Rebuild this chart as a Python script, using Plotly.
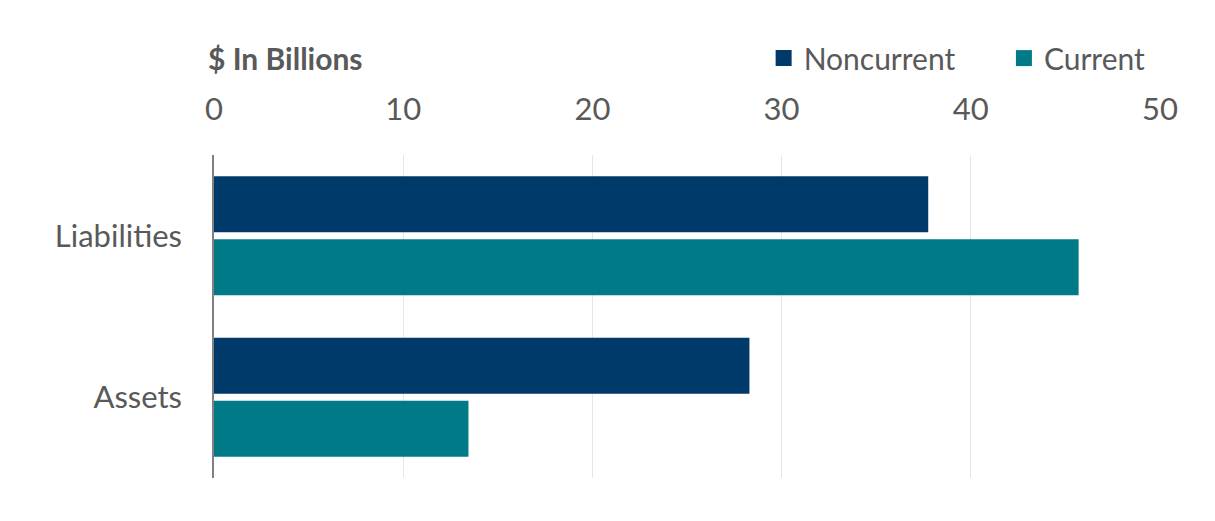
import plotly.graph_objects as go

categories = ["Assets", "Liabilities"]
noncurrent = [28.3, 37.75]
current = [13.45, 45.7]
x_ticks = [0, 10, 20, 30, 40, 50]

NAVY = "#003A6A"
TEAL = "#007A87"
GREY = "#595959"
FONT = "Lato, Carlito, 'Liberation Sans Narrow', sans-serif"

fig = go.Figure()
# Current is added first so Noncurrent sits on top within each horizontal group
fig.add_trace(go.Bar(
    y=categories, x=current, orientation="h", name="Current",
    marker=dict(color=TEAL, line=dict(width=0)), showlegend=False,
))
fig.add_trace(go.Bar(
    y=categories, x=noncurrent, orientation="h", name="Noncurrent",
    marker=dict(color=NAVY, line=dict(width=0)), showlegend=False,
))
# Legend entries with larger square swatches, each in its own legend box
for name, color, leg in [("Noncurrent", NAVY, "legend"), ("Current", TEAL, "legend2")]:
    fig.add_trace(go.Scatter(
        x=[None], y=[None], mode="markers", name=name, legend=leg,
        marker=dict(symbol="square", size=17, color=color),
    ))

legend_style = dict(
    orientation="h", xanchor="left", y=1.30, yanchor="middle",
    xref="paper", yref="paper", font=dict(size=30, color=GREY, family=FONT),
    itemwidth=30, bgcolor="rgba(0,0,0,0)",
)

fig.update_layout(
    width=1215, height=521,
    margin=dict(l=214, r=55, t=155, b=43),
    paper_bgcolor="white", plot_bgcolor="white",
    barmode="group", bargap=0.22, bargroupgap=0.11,
    font=dict(family=FONT, color=GREY, size=30),
    showlegend=True,
    legend=dict(x=0.581, **legend_style),
    legend2=dict(x=0.835, **legend_style),
    xaxis=dict(
        side="top", range=[0, 50], tickvals=x_ticks, showgrid=True,
        gridcolor="#E6E6E6", gridwidth=1, zeroline=False, showline=False,
        ticks="", tickfont=dict(size=31, color=GREY), ticklabelstandoff=28,
    ),
    yaxis=dict(
        showline=True, linecolor="#808080", linewidth=1.5, ticks="",
        showgrid=False, tickfont=dict(size=31, color=GREY), ticklabelstandoff=24,
    ),
    annotations=[dict(
        text="<b>$ In Billions</b>", xref="paper", yref="paper",
        x=-0.008, y=1.30, xanchor="left", yanchor="middle",
        showarrow=False, font=dict(size=30, color=GREY, family=FONT),
    )],
)

fig.write_html("out.html")
